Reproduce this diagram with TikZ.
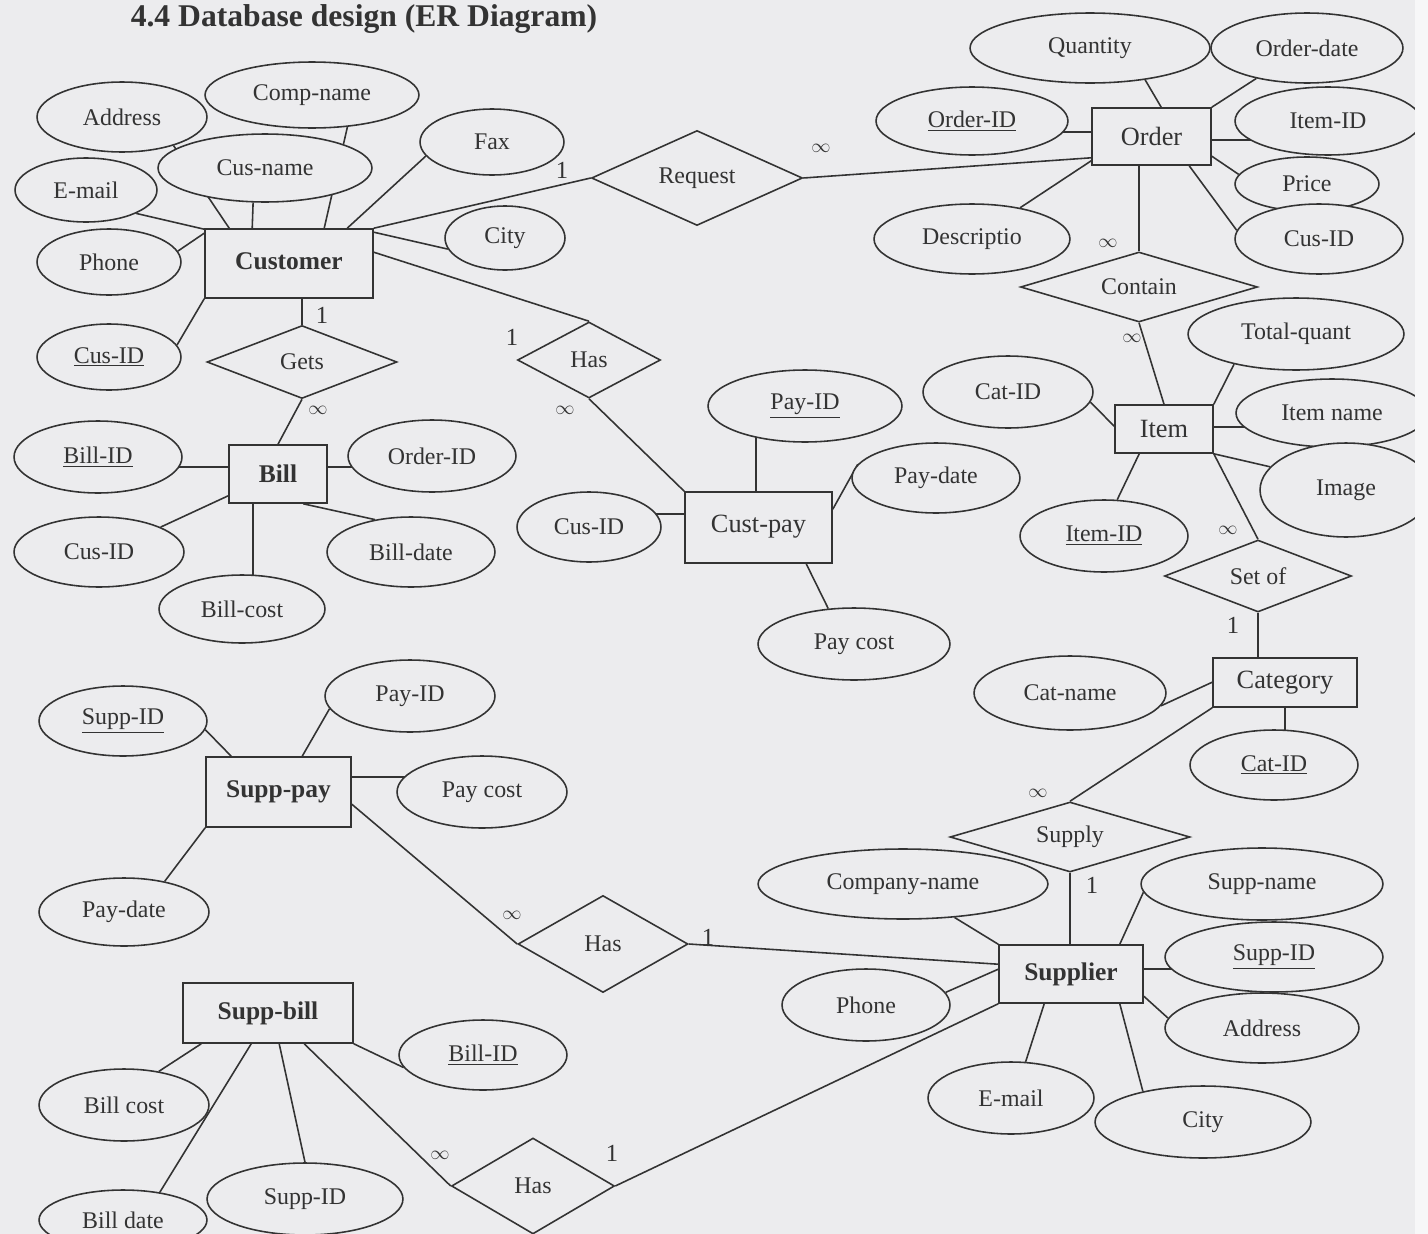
\documentclass[tikz,border=0pt]{standalone}
\usepackage{fontspec}
\setmainfont{Liberation Serif}
\usetikzlibrary{shapes.geometric,calc}
\pgfdeclarelayer{back}
\pgfdeclarelayer{front}
\pgfsetlayers{back,main,front}
\definecolor{paper}{HTML}{ECECEE}
\definecolor{ink}{HTML}{333333}
\begin{document}
\begin{tikzpicture}[x=0.02cm,y=-0.02cm,
 line/.style={draw=ink,line width=0.9pt},
 ell/.style 2 args={ellipse,draw=ink,line width=0.9pt,fill=paper,inner sep=0pt,minimum width=#1*0.04cm,minimum height=#2*0.04cm,text=ink,font=\fontsize{13.6}{15}\selectfont},
 ent/.style 2 args={rectangle,draw=ink,line width=0.9pt,fill=paper,inner sep=0pt,minimum width=#1*0.02cm,minimum height=#2*0.02cm,text=ink,font=\fontsize{15}{17}\selectfont},
 entb/.style 2 args={ent={#1}{#2},font=\fontsize{14.5}{17}\selectfont\bfseries},
 rel/.style 2 args={diamond,aspect=2,draw=ink,line width=0.9pt,fill=paper,inner sep=0pt,minimum width=#1*0.02cm,minimum height=#2*0.02cm,text=ink,font=\fontsize{13.6}{15}\selectfont},
 card/.style={inner sep=0pt,text=ink,font=\fontsize{14}{16}\selectfont},
 cardinf/.style={inner sep=0pt,text=ink,font=\fontsize{11}{12}\selectfont},
]
\useasboundingbox (0,0) rectangle (1428,1234);
\clip (0,0) rectangle (1428,1234);

\node[inner sep=0pt,text=ink,font=\fontsize{18}{20}\selectfont\bfseries] (title) at (364,19) {4.4 Database design (ER Diagram)};

% Customer
\node[entb={168}{69}] (cust) at (289,263.5) {\raisebox{3pt}{Customer}};
\node[ell={85}{35}] (address) at (122,117) {Address};
\node[ell={107}{33}] (compname) at (312,95) {Comp-name};
\node[ell={107}{34}] (cusname) at (265,168) {Cus-name};
\node[ell={71}{32}] (email) at (86,190) {E-mail};
\node[ell={72}{33}] (phone) at (109,262) {Phone};
\node[ell={72}{33}] (fax) at (492,142) {Fax};
\node[ell={60}{32}] (city) at (505,238) {City};
\node[ell={72}{33}] (cusid) at (109,357) {\underline{Cus-ID}};

% Order
\node[ent={119}{57}] (order) at (1151.5,136.5) {Order};
\node[ell={120}{35}] (quantity) at (1090,48) {Quantity};
\node[ell={96}{35}] (orderdate) at (1307,48) {Order-date};
\node[ell={96}{34}] (orderid) at (972,121) {\underline{Order-ID}};
\node[ell={93}{34}] (oitemid) at (1328,121) {Item-ID};
\node[ell={72}{27}] (price) at (1307,184) {Price};
\node[ell={84}{35}] (ocusid) at (1319,239) {Cus-ID};
\node[ell={98}{35}] (descr) at (972,239) {Descriptio};
\node[rel={211}{95}] (request) at (697,178) {Request};
\node[rel={237}{70}] (contain) at (1139,287) {Contain};

% Item
\node[ent={98}{48}] (item) at (1164,429) {Item};
\node[ell={108}{36}] (totalq) at (1296,334) {Total-quant};
\node[ell={85}{36}] (icatid) at (1008,392) {Cat-ID};
\node[ell={96}{34}] (itemname) at (1332,413) {Item name};
\node[ell={86}{47}] (image) at (1346,490) {Image};
\node[ell={84}{36}] (iitemid) at (1104,536) {\underline{Item-ID}};
\node[rel={187}{72}] (setof) at (1258,576) {Set of};

% Category
\node[ent={144}{49}] (category) at (1285,682.5) {Category};
\node[ell={96}{37}] (catname) at (1070,693) {Cat-name};
\node[ell={84}{35}] (ccatid) at (1274,765) {\underline{Cat-ID}};
\node[rel={240}{70}] (supply) at (1070,837) {Supply};

% Supplier
\node[entb={144}{58}] (supplier) at (1071,974) {Supplier};
\node[ell={145}{35}] (compname2) at (903,884) {Company-name};
\node[ell={121}{36}] (suppname) at (1262,884) {Supp-name};
\node[ell={109}{35}] (ssuppid) at (1274,957) {\underline{Supp-ID}};
\node[ell={97}{35}] (saddress) at (1262,1028) {Address};
\node[ell={108}{36}] (scity) at (1203,1122) {City};
\node[ell={83}{36}] (semail) at (1011,1098) {E-mail};
\node[ell={84}{36}] (sphone) at (866,1005) {Phone};
\node[rel={170}{97}] (has2) at (603,944) {Has};

% Supp-pay
\node[entb={145}{70}] (supppay) at (278.5,792) {\raisebox{3pt}{Supp-pay}};
\node[ell={84}{35}] (spsuppid) at (123,721) {\underline{Supp-ID}};
\node[ell={85}{36}] (sppayid) at (410,696) {Pay-ID};
\node[ell={85}{36}] (sppaycost) at (482,792) {Pay cost};
\node[ell={85}{34}] (sppaydate) at (124,912) {Pay-date};

% Supp-bill
\node[entb={170}{60}] (suppbill) at (268,1013) {Supp-bill};
\node[ell={84}{35}] (sbbillid) at (483,1055) {\underline{Bill-ID}};
\node[ell={85}{36}] (sbbillcost) at (124,1105) {Bill cost};
\node[ell={84}{30}] (sbbilldate) at (123,1220) {Bill date};
\node[ell={98}{36}] (sbsuppid) at (305,1199) {Supp-ID};
\node[rel={163}{96}] (has3) at (533,1186) {Has};

% Bill
\node[entb={98}{58}] (bill) at (278,474) {Bill};
\node[ell={84}{36}] (billid) at (98,457) {\underline{Bill-ID}};
\node[ell={84}{36}] (borderid) at (432,456) {Order-ID};
\node[ell={85}{35}] (bcusid) at (99,552) {Cus-ID};
\node[ell={83}{34}] (billcost) at (242,609) {Bill-cost};
\node[ell={84}{35}] (billdate) at (411,552) {Bill-date};
\node[rel={190}{73}] (gets) at (302,362) {Gets};

% Cust-pay
\node[ent={147}{71}] (custpay) at (758.5,527.5) {\raisebox{4pt}{Cust-pay}};
\node[ell={97}{36}] (payid) at (805,406) {\underline{Pay-ID}};
\node[ell={72}{35}] (cpcusid) at (589,527) {Cus-ID};
\node[ell={84}{35}] (paydate) at (936,478) {Pay-date};
\node[ell={96}{36}] (paycost) at (854,644) {Pay cost};
\node[rel={143}{76}] (has1) at (589,360) {Has};

% cardinalities
\node[card] (k1) at (562,170) {1};
\node[cardinf] (k2) at (821,148) {$\infty$};
\node[card] (k3) at (322,315) {1};
\node[cardinf] (k4) at (318,410) {$\infty$};
\node[card] (k5) at (512,337) {1};
\node[cardinf] (k6) at (565,410) {$\infty$};
\node[cardinf] (k7) at (1108,243) {$\infty$};
\node[cardinf] (k8) at (1132,338) {$\infty$};
\node[cardinf] (k9) at (1228,530) {$\infty$};
\node[card] (k10) at (1233,625) {1};
\node[cardinf] (k11) at (1038,793) {$\infty$};
\node[card] (k12) at (1092,885) {1};
\node[cardinf] (k13) at (512,915) {$\infty$};
\node[card] (k14) at (708,937) {1};
\node[cardinf] (k15) at (440,1155) {$\infty$};
\node[card] (k16) at (612,1153) {1};

% helper coordinates
\coordinate (bL) at ($(bill.north west)+(0,23)$);
\coordinate (bR) at ($(bill.north east)+(0,23)$);
\coordinate (bB) at ($(bill.south west)+(25,0)$);
\coordinate (cpT) at ($(custpay.north west)+(72,0)$);
\coordinate (cpL) at ($(custpay.north west)+(0,23)$);
\coordinate (oL) at ($(order.north west)+(0,25)$);
\coordinate (oR) at ($(order.north east)+(0,33)$);
\coordinate (iR) at ($(item.north east)+(0,23)$);
\coordinate (sR) at ($(supplier.north east)+(0,25)$);
\coordinate (spR) at ($(supppay.north east)+(0,21)$);

\begin{pgfonlayer}{back}
\fill[paper] (0,0) rectangle (1428,1234);
% Customer
\draw[line] (address.-29) -- ($(cust.north west)+(25,0)$);
\draw[line] (compname.-42) -- ($(cust.north west)+(120,0)$);
\draw[line] (cusname.-109) -- ($(cust.north west)+(48,0)$);
\draw[line] (fax.-168) -- ($(cust.north west)+(143,0)$);
\draw[line] (email.-25) -- ($(cust.north west)+(0,1)$);
\draw[line] (phone.9) -- ($(cust.north west)+(0,5)$);
\draw[line] (cusid.10) -- (cust.south west);
\draw[line] (city.191) -- ($(cust.north east)+(0,4)$);
\draw[line] (cust.north east) -- (request.west);
\draw[line] ($(cust.north east)+(0,24)$) -- (has1.north);
\draw[line] (gets.north) -- (gets.north |- cust.south);
% Bill
\draw[line] (gets.south) -- (bill.north);
\draw[line] (bL) -- (bL -| billid.center);
\draw[line] (bR) -- (bR -| borderid.center);
\draw[line] (bcusid.22) -- ($(bill.south west)+(0,-8)$);
\draw[line] (bB) -- (bB |- billcost.center);
\draw[line] (billdate.138) -- ($(bill.south west)+(75,0)$);
% Cust-pay
\draw[line] (has1.south) -- (custpay.north west);
\draw[line] (cpT) -- (cpT |- payid.center);
\draw[line] (cpL) -- (cpL -| cpcusid.center);
\draw[line] (paydate.170) -- ($(custpay.north east)+(0,18)$);
\draw[line] (paycost.126) -- ($(custpay.south west)+(122,0)$);
% Order
\draw[line] (quantity.-30) -- ($(order.north west)+(70,0)$);
\draw[line] (orderdate.211) -- (order.north east);
\draw[line] (oL) -- (oL -| orderid.center);
\draw[line] (oR) -- (oR -| oitemid.center);
\draw[line] (price.172) -- ($(order.north east)+(0,49)$);
\draw[line] (ocusid.174) -- ($(order.south west)+(98,0)$);
\draw[line] (descr.33) -- ($(order.south west)+(0,-5)$);
\draw[line] (request.east) -- ($(order.south west)+(0,-8)$);
\draw[line] (contain.north) -- (contain.north |- order.south);
% Item
\draw[line] (contain.south) -- (item.north);
\draw[line] (totalq.206) -- (item.north east);
\draw[line] (icatid.-7) -- ($(item.north west)+(0,22)$);
\draw[line] (iR) -- (iR -| itemname.center);
\draw[line] (image.163) -- (item.south east);
\draw[line] (iitemid.70) -- ($(item.south west)+(25,0)$);
\draw[line] (item.south east) -- (setof.north);
\draw[line] (setof.south) -- (setof.south |- category.north);
% Category
\draw[line] (catname.-8) -- ($(category.north west)+(0,25)$);
\draw[line] (category.south) -- (category.south |- ccatid.center);
\draw[line] (category.south west) -- (supply.north);
\draw[line] (supply.south) -- (supply.south |- supplier.north);
% Supplier
\draw[line] (compname2.-33) -- (supplier.north west);
\draw[line] (suppname.184) -- ($(supplier.north east)+(-24,0)$);
\draw[line] (sR) -- (sR -| ssuppid.center);
\draw[line] (saddress.174) -- ($(supplier.north east)+(0,52)$);
\draw[line] (scity.153) -- ($(supplier.south east)+(-24,0)$);
\draw[line] (semail.68) -- ($(supplier.south west)+(46,0)$);
\draw[line] (sphone.9) -- ($(supplier.north west)+(0,25)$);
\draw[line] (has2.east) -- ($(supplier.north west)+(0,20)$);
\draw[line] (has3.east) -- (supplier.south west);
% Supp-pay
\draw[line] (spsuppid.-6) -- ($(supppay.north west)+(26,0)$);
\draw[line] (sppayid.189) -- ($(supppay.north west)+(97,0)$);
\draw[line] (spR) -- (spR -| sppaycost.center);
\draw[line] (sppaydate.37) -- (supppay.south west);
\draw[line] ($(supppay.north east)+(0,48)$) -- (has2.west);
% Supp-bill
\draw[line] (sbbillid.189) -- (suppbill.south east);
\draw[line] (sbbillcost.44) -- ($(suppbill.south west)+(19,0)$);
\draw[line] (sbbilldate.37) -- ($(suppbill.south west)+(69,0)$);
\draw[line] (sbsuppid.90) -- ($(suppbill.south west)+(97,0)$);
\draw[line] ($(suppbill.south west)+(122,0)$) -- (has3.west);
\end{pgfonlayer}

\begin{pgfonlayer}{front}
\fill[white!60!paper] (1415,0) rectangle (1428,1234);
\end{pgfonlayer}
\end{tikzpicture}
\end{document}
